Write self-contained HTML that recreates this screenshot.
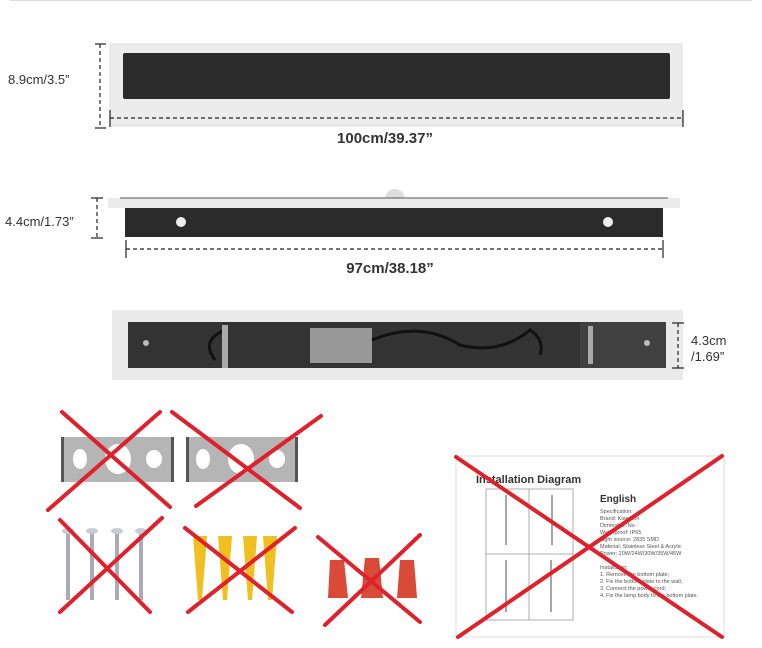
<!DOCTYPE html>
<html><head><meta charset="utf-8"><style>
html,body{margin:0;padding:0;background:#fff;}
svg{display:block;}
text{font-family:"Liberation Sans",sans-serif;}
</style></head><body>
<svg width="762" height="648" viewBox="0 0 762 648" xmlns="http://www.w3.org/2000/svg">
<rect width="762" height="648" fill="#fff"/>
<line x1="10" y1="0.5" x2="752" y2="0.5" stroke="#ddd"/>
<rect x="110" y="44" width="572" height="82" fill="#ececec" stroke="#ddd"/>
<rect x="123" y="53" width="547" height="46" rx="2" fill="#2b2b2b"/>
<g stroke="#222" stroke-width="1.2">
<line x1="95" y1="44" x2="106" y2="44"/><line x1="95" y1="128" x2="106" y2="128"/>
<line x1="100" y1="44" x2="100" y2="128" stroke-dasharray="4,3"/>
<line x1="110" y1="110" x2="110" y2="127"/><line x1="683" y1="110" x2="683" y2="127"/>
<line x1="110" y1="118" x2="683" y2="118" stroke-dasharray="4,3"/>
</g>
<text x="8" y="84" font-size="13" fill="#333">8.9cm/3.5”</text>
<text x="385" y="143" font-size="15" font-weight="bold" fill="#333" text-anchor="middle">100cm/39.37”</text>
<circle cx="395" cy="199" r="10" fill="#ddd"/>
<rect x="108" y="198" width="572" height="10" fill="#ebebeb"/>
<line x1="120" y1="198" x2="668" y2="198" stroke="#555"/>
<rect x="125" y="208" width="538" height="29" fill="#2b2b2b"/>
<circle cx="181" cy="222" r="5" fill="#eee"/>
<circle cx="608" cy="222" r="5" fill="#eee"/>
<g stroke="#222" stroke-width="1.2">
<line x1="91" y1="198" x2="103" y2="198"/><line x1="91" y1="238" x2="103" y2="238"/>
<line x1="97" y1="198" x2="97" y2="238" stroke-dasharray="4,3"/>
<line x1="126" y1="240" x2="126" y2="258"/><line x1="663" y1="240" x2="663" y2="258"/>
<line x1="126" y1="249" x2="663" y2="249" stroke-dasharray="4,3"/>
</g>
<text x="5" y="226" font-size="13" fill="#333">4.4cm/1.73”</text>
<text x="390" y="273" font-size="15" font-weight="bold" fill="#333" text-anchor="middle">97cm/38.18”</text>
<rect x="112" y="310" width="571" height="70" fill="#eaeaea"/>
<rect x="128" y="322" width="538" height="46" fill="#333"/>
<rect x="580" y="322" width="86" height="46" fill="#404040"/>
<circle cx="146" cy="343" r="3" fill="#bbb"/><circle cx="647" cy="343" r="3" fill="#bbb"/>
<rect x="310" y="328" width="62" height="35" fill="#999"/>
<path d="M225 330 Q200 340 215 360 M372 340 Q420 320 460 345 Q500 355 530 330 Q545 340 540 355" stroke="#111" stroke-width="3" fill="none"/>
<rect x="222" y="325" width="6" height="43" fill="#aaa"/>
<rect x="588" y="326" width="5" height="38" fill="#aaa"/>
<g stroke="#222" stroke-width="1.2">
<line x1="672" y1="323" x2="684" y2="323"/><line x1="672" y1="368" x2="684" y2="368"/>
<line x1="678" y1="323" x2="678" y2="368" stroke-dasharray="4,3"/>
</g>
<text x="691" y="345" font-size="13" fill="#333">4.3cm</text>
<text x="691" y="361" font-size="13" fill="#333">/1.69”</text>
<g fill="#b5b5b5">
<rect x="61" y="437" width="113" height="45"/><rect x="186" y="437" width="112" height="45"/>
</g>
<g fill="#555"><rect x="61" y="437" width="3" height="45"/><rect x="171" y="437" width="3" height="45"/><rect x="186" y="437" width="3" height="45"/><rect x="295" y="437" width="3" height="45"/></g>
<g fill="#fff">
<ellipse cx="80" cy="459" rx="7" ry="10"/><ellipse cx="118" cy="459" rx="13" ry="15"/><ellipse cx="154" cy="459" rx="8" ry="9"/>
<ellipse cx="203" cy="459" rx="7" ry="10"/><ellipse cx="241" cy="459" rx="13" ry="15"/><ellipse cx="277" cy="459" rx="8" ry="9"/>
</g>
<g stroke="#aab" stroke-width="4">
<line x1="68" y1="532" x2="68" y2="600"/><line x1="92" y1="532" x2="92" y2="600"/><line x1="117" y1="532" x2="117" y2="600"/><line x1="141" y1="532" x2="141" y2="600"/>
</g>
<g fill="#c8ccd6"><ellipse cx="68" cy="531" rx="6" ry="3"/><ellipse cx="92" cy="531" rx="6" ry="3"/><ellipse cx="117" cy="531" rx="6" ry="3"/><ellipse cx="141" cy="531" rx="6" ry="3"/></g>
<g fill="#f0c020">
<path d="M193 536 L207 536 L202 600 L198 600Z"/><path d="M218 536 L232 536 L227 600 L223 600Z"/><path d="M243 536 L257 536 L252 600 L248 600Z"/><path d="M263 536 L277 536 L272 600 L268 600Z"/>
</g>
<g fill="#d94a38">
<path d="M330 560 L344 560 L348 598 L328 598Z"/><path d="M365 558 L379 558 L383 598 L361 598Z"/><path d="M400 560 L414 560 L417 598 L397 598Z"/>
</g>
<rect x="456" y="456" width="268" height="181" fill="#fff" stroke="#ddd"/>
<text x="476" y="483" font-size="11" font-weight="bold" fill="#333">Installation Diagram</text>
<rect x="486" y="489" width="87" height="131" fill="none" stroke="#999" stroke-width="0.8"/>
<line x1="529" y1="489" x2="529" y2="620" stroke="#999" stroke-width="0.8"/>
<line x1="486" y1="554" x2="573" y2="554" stroke="#999" stroke-width="0.8"/>
<g stroke="#888" stroke-width="1.5">
<line x1="506" y1="495" x2="506" y2="545"/><line x1="552" y1="495" x2="552" y2="545"/><line x1="506" y1="560" x2="506" y2="612"/><line x1="551" y1="560" x2="551" y2="612"/>
</g>
<text x="600" y="502" font-size="10" font-weight="bold" fill="#333">English</text>
<g font-size="5.5" fill="#555">
<text x="600" y="513">Specification:</text><text x="600" y="520">Brand: Kianmen</text><text x="600" y="527">Dimmable: No</text><text x="600" y="534">Waterproof: IP65</text><text x="600" y="541">Light source: 2835 SMD</text><text x="600" y="548">Material: Stainless Steel &amp; Acrylic</text><text x="600" y="555">Power: 20W/24W/30W/35W/45W</text>
<text x="600" y="569">Installation:</text><text x="600" y="576">1. Remove the bottom plate;</text><text x="600" y="583">2. Fix the bottom plate to the wall;</text><text x="600" y="590">3. Connect the power cord;</text><text x="600" y="597">4. Fix the lamp body to the bottom plate.</text>
</g>
<g stroke="#e0202a" stroke-width="4" stroke-linecap="round">
<line x1="62" y1="412" x2="170" y2="507"/><line x1="160" y1="412" x2="48" y2="510"/>
<line x1="172" y1="412" x2="300" y2="508"/><line x1="321" y1="416" x2="196" y2="506"/>
<line x1="60" y1="520" x2="150" y2="612"/><line x1="162" y1="518" x2="60" y2="612"/>
<line x1="185" y1="528" x2="292" y2="612"/><line x1="295" y1="528" x2="188" y2="612"/>
<line x1="318" y1="537" x2="420" y2="622"/><line x1="420" y1="535" x2="325" y2="625"/>
<line x1="456" y1="457" x2="722" y2="637"/><line x1="722" y1="456" x2="458" y2="637"/>
</g>
</svg>
</body></html>
